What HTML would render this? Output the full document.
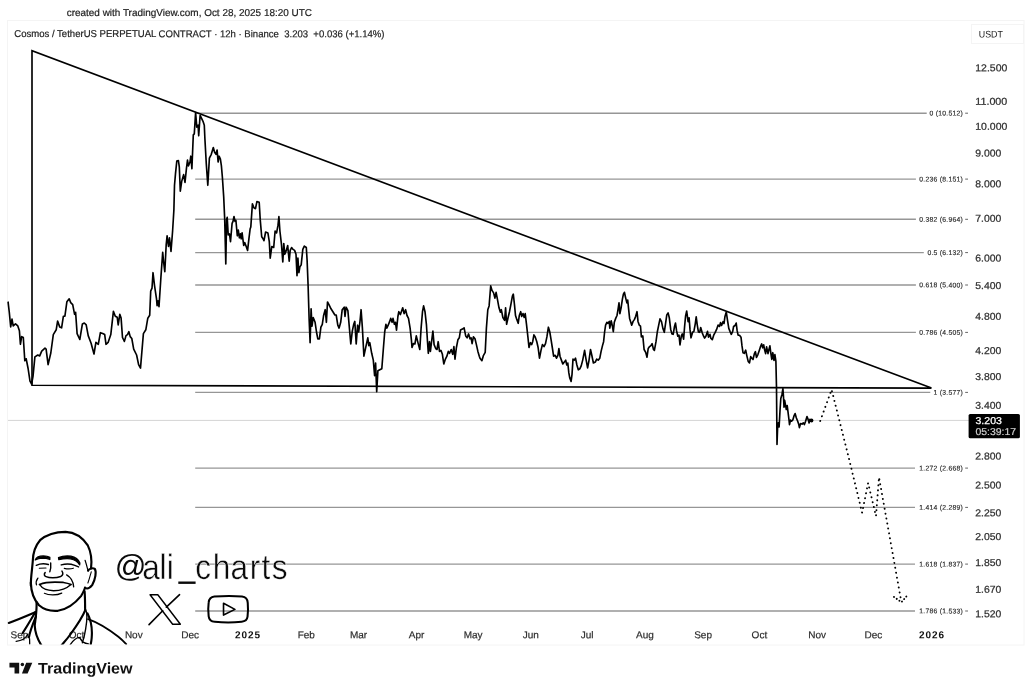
<!DOCTYPE html>
<html><head><meta charset="utf-8"><title>chart</title>
<style>
html,body{margin:0;padding:0;background:#fff;}
body{width:1032px;height:692px;overflow:hidden;position:relative;font-family:"Liberation Sans",sans-serif;}
svg{position:absolute;left:0;top:0;}
text{font-family:"Liberation Sans",sans-serif;}
</style></head><body>
<svg width="1032" height="692" viewBox="0 0 1032 692" style="filter:grayscale(1)">
<rect x="0" y="0" width="1032" height="692" fill="#ffffff"/>
<!-- frame -->
<rect x="7.5" y="20.5" width="1016.5" height="624.5" fill="none" stroke="#f4f4f4" stroke-width="1"/>
<rect x="971.5" y="24.5" width="52" height="19" fill="none" stroke="#f4f4f4" stroke-width="1"/>
<text transform="rotate(0.05 66.7 15.9)" x="66.7" y="15.9" font-size="10" fill="#1c1c1c" stroke="#1c1c1c" stroke-width="0.2" textLength="245.3" lengthAdjust="spacingAndGlyphs">created with TradingView.com, Oct 28, 2025 18:20 UTC</text>
<text transform="rotate(0.05 14.3 37.0)" x="14.3" y="37.0" font-size="10" fill="#222" stroke="#222" stroke-width="0.2" xml:space="preserve" textLength="370.2" lengthAdjust="spacingAndGlyphs">Cosmos / TetherUS PERPETUAL CONTRACT · 12h · Binance  3.203  +0.036 (+1.14%)</text>
<text transform="rotate(0.05 978.8 37.4)" x="978.8" y="37.4" font-size="9.6" fill="#222" textLength="24.1" lengthAdjust="spacingAndGlyphs">USDT</text>

<line x1="8" y1="420.4" x2="969" y2="420.4" stroke="#d4d4d4" stroke-width="1"/>
<line x1="195.2" y1="113.2" x2="926.7" y2="113.2" stroke="#969696" stroke-width="1.4"/>
<text transform="rotate(0.05 963 115.6)" x="963" y="115.6" font-size="6.8" fill="#2a2a2a" stroke="#2a2a2a" stroke-width="0.15" text-anchor="end" letter-spacing="0.25">0 (10.512)</text>
<line x1="965.2" y1="113.2" x2="968" y2="113.2" stroke="#555" stroke-width="0.9"/>
<line x1="195.2" y1="179.1" x2="915.9" y2="179.1" stroke="#969696" stroke-width="1.4"/>
<text transform="rotate(0.05 963 181.5)" x="963" y="181.5" font-size="6.8" fill="#2a2a2a" stroke="#2a2a2a" stroke-width="0.15" text-anchor="end" letter-spacing="0.25">0.236 (8.151)</text>
<line x1="965.2" y1="179.1" x2="968" y2="179.1" stroke="#555" stroke-width="0.9"/>
<line x1="195.2" y1="219.3" x2="915.9" y2="219.3" stroke="#969696" stroke-width="1.4"/>
<text transform="rotate(0.05 963 221.7)" x="963" y="221.7" font-size="6.8" fill="#2a2a2a" stroke="#2a2a2a" stroke-width="0.15" text-anchor="end" letter-spacing="0.25">0.382 (6.964)</text>
<line x1="965.2" y1="219.3" x2="968" y2="219.3" stroke="#555" stroke-width="0.9"/>
<line x1="195.2" y1="252.6" x2="923.8" y2="252.6" stroke="#969696" stroke-width="1.4"/>
<text transform="rotate(0.05 963 255.0)" x="963" y="255.0" font-size="6.8" fill="#2a2a2a" stroke="#2a2a2a" stroke-width="0.15" text-anchor="end" letter-spacing="0.25">0.5 (6.132)</text>
<line x1="965.2" y1="252.6" x2="968" y2="252.6" stroke="#555" stroke-width="0.9"/>
<line x1="195.2" y1="285.0" x2="915.9" y2="285.0" stroke="#969696" stroke-width="1.4"/>
<text transform="rotate(0.05 963 287.4)" x="963" y="287.4" font-size="6.8" fill="#2a2a2a" stroke="#2a2a2a" stroke-width="0.15" text-anchor="end" letter-spacing="0.25">0.618 (5.400)</text>
<line x1="965.2" y1="285.0" x2="968" y2="285.0" stroke="#555" stroke-width="0.9"/>
<line x1="195.2" y1="332.4" x2="915.9" y2="332.4" stroke="#969696" stroke-width="1.4"/>
<text transform="rotate(0.05 963 334.8)" x="963" y="334.8" font-size="6.8" fill="#2a2a2a" stroke="#2a2a2a" stroke-width="0.15" text-anchor="end" letter-spacing="0.25">0.786 (4.505)</text>
<line x1="965.2" y1="332.4" x2="968" y2="332.4" stroke="#555" stroke-width="0.9"/>
<line x1="195.2" y1="392.4" x2="930.3" y2="392.4" stroke="#969696" stroke-width="1.4"/>
<text transform="rotate(0.05 963 394.8)" x="963" y="394.8" font-size="6.8" fill="#2a2a2a" stroke="#2a2a2a" stroke-width="0.15" text-anchor="end" letter-spacing="0.25">1 (3.577)</text>
<line x1="965.2" y1="392.4" x2="968" y2="392.4" stroke="#555" stroke-width="0.9"/>
<line x1="195.2" y1="468.1" x2="915.0" y2="468.1" stroke="#969696" stroke-width="1.4"/>
<text transform="rotate(0.05 963 470.5)" x="963" y="470.5" font-size="6.8" fill="#2a2a2a" stroke="#2a2a2a" stroke-width="0.15" text-anchor="end" letter-spacing="0.25">1.272 (2.668)</text>
<line x1="965.2" y1="468.1" x2="968" y2="468.1" stroke="#555" stroke-width="0.9"/>
<line x1="195.2" y1="507.4" x2="915.0" y2="507.4" stroke="#969696" stroke-width="1.4"/>
<text transform="rotate(0.05 963 509.8)" x="963" y="509.8" font-size="6.8" fill="#2a2a2a" stroke="#2a2a2a" stroke-width="0.15" text-anchor="end" letter-spacing="0.25">1.414 (2.289)</text>
<line x1="965.2" y1="507.4" x2="968" y2="507.4" stroke="#555" stroke-width="0.9"/>
<line x1="195.2" y1="564.1" x2="915.0" y2="564.1" stroke="#969696" stroke-width="1.4"/>
<text transform="rotate(0.05 963 566.5)" x="963" y="566.5" font-size="6.8" fill="#2a2a2a" stroke="#2a2a2a" stroke-width="0.15" text-anchor="end" letter-spacing="0.25">1.618 (1.837)</text>
<line x1="965.2" y1="564.1" x2="968" y2="564.1" stroke="#555" stroke-width="0.9"/>
<line x1="195.2" y1="611.0" x2="915.0" y2="611.0" stroke="#969696" stroke-width="1.4"/>
<text transform="rotate(0.05 963 613.4)" x="963" y="613.4" font-size="6.8" fill="#2a2a2a" stroke="#2a2a2a" stroke-width="0.15" text-anchor="end" letter-spacing="0.25">1.786 (1.533)</text>
<line x1="965.2" y1="611.0" x2="968" y2="611.0" stroke="#555" stroke-width="0.9"/>
<text transform="rotate(0.05 975.3 71.3)" x="975.3" y="71.3" font-size="10" fill="#303030" stroke="#303030" stroke-width="0.25" textLength="32.0" lengthAdjust="spacingAndGlyphs">12.500</text>
<text transform="rotate(0.05 975.3 104.7)" x="975.3" y="104.7" font-size="10" fill="#303030" stroke="#303030" stroke-width="0.25" textLength="32.0" lengthAdjust="spacingAndGlyphs">11.000</text>
<text transform="rotate(0.05 975.3 129.8)" x="975.3" y="129.8" font-size="10" fill="#303030" stroke="#303030" stroke-width="0.25" textLength="32.0" lengthAdjust="spacingAndGlyphs">10.000</text>
<text transform="rotate(0.05 975.3 156.4)" x="975.3" y="156.4" font-size="10" fill="#303030" stroke="#303030" stroke-width="0.25" textLength="26.0" lengthAdjust="spacingAndGlyphs">9.000</text>
<text transform="rotate(0.05 975.3 187.3)" x="975.3" y="187.3" font-size="10" fill="#303030" stroke="#303030" stroke-width="0.25" textLength="26.0" lengthAdjust="spacingAndGlyphs">8.000</text>
<text transform="rotate(0.05 975.3 221.7)" x="975.3" y="221.7" font-size="10" fill="#303030" stroke="#303030" stroke-width="0.25" textLength="26.0" lengthAdjust="spacingAndGlyphs">7.000</text>
<text transform="rotate(0.05 975.3 261.4)" x="975.3" y="261.4" font-size="10" fill="#303030" stroke="#303030" stroke-width="0.25" textLength="26.0" lengthAdjust="spacingAndGlyphs">6.000</text>
<text transform="rotate(0.05 975.3 289.0)" x="975.3" y="289.0" font-size="10" fill="#303030" stroke="#303030" stroke-width="0.25" textLength="26.0" lengthAdjust="spacingAndGlyphs">5.400</text>
<text transform="rotate(0.05 975.3 319.7)" x="975.3" y="319.7" font-size="10" fill="#303030" stroke="#303030" stroke-width="0.25" textLength="26.0" lengthAdjust="spacingAndGlyphs">4.800</text>
<text transform="rotate(0.05 975.3 354.1)" x="975.3" y="354.1" font-size="10" fill="#303030" stroke="#303030" stroke-width="0.25" textLength="26.0" lengthAdjust="spacingAndGlyphs">4.200</text>
<text transform="rotate(0.05 975.3 379.9)" x="975.3" y="379.9" font-size="10" fill="#303030" stroke="#303030" stroke-width="0.25" textLength="26.0" lengthAdjust="spacingAndGlyphs">3.800</text>
<text transform="rotate(0.05 975.3 408.8)" x="975.3" y="408.8" font-size="10" fill="#303030" stroke="#303030" stroke-width="0.25" textLength="26.0" lengthAdjust="spacingAndGlyphs">3.400</text>
<text transform="rotate(0.05 975.3 459.4)" x="975.3" y="459.4" font-size="10" fill="#303030" stroke="#303030" stroke-width="0.25" textLength="26.0" lengthAdjust="spacingAndGlyphs">2.800</text>
<text transform="rotate(0.05 975.3 488.6)" x="975.3" y="488.6" font-size="10" fill="#303030" stroke="#303030" stroke-width="0.25" textLength="26.0" lengthAdjust="spacingAndGlyphs">2.500</text>
<text transform="rotate(0.05 975.3 516.2)" x="975.3" y="516.2" font-size="10" fill="#303030" stroke="#303030" stroke-width="0.25" textLength="26.0" lengthAdjust="spacingAndGlyphs">2.250</text>
<text transform="rotate(0.05 975.3 540.0)" x="975.3" y="540.0" font-size="10" fill="#303030" stroke="#303030" stroke-width="0.25" textLength="26.0" lengthAdjust="spacingAndGlyphs">2.050</text>
<text transform="rotate(0.05 975.3 566.0)" x="975.3" y="566.0" font-size="10" fill="#303030" stroke="#303030" stroke-width="0.25" textLength="26.0" lengthAdjust="spacingAndGlyphs">1.850</text>
<text transform="rotate(0.05 975.3 592.7)" x="975.3" y="592.7" font-size="10" fill="#303030" stroke="#303030" stroke-width="0.25" textLength="26.0" lengthAdjust="spacingAndGlyphs">1.670</text>
<text transform="rotate(0.05 975.3 617.3)" x="975.3" y="617.3" font-size="10" fill="#303030" stroke="#303030" stroke-width="0.25" textLength="26.0" lengthAdjust="spacingAndGlyphs">1.520</text>
<text transform="rotate(0.05 19.5 638.2)" x="19.5" y="638.2" font-size="10" fill="#2c2c2c" stroke="#2c2c2c" stroke-width="0.2" text-anchor="middle">Sep</text>
<text transform="rotate(0.05 76.5 638.2)" x="76.5" y="638.2" font-size="10" fill="#2c2c2c" stroke="#2c2c2c" stroke-width="0.2" text-anchor="middle">Oct</text>
<text transform="rotate(0.05 133.8 638.2)" x="133.8" y="638.2" font-size="10" fill="#2c2c2c" stroke="#2c2c2c" stroke-width="0.2" text-anchor="middle">Nov</text>
<text transform="rotate(0.05 190.1 638.2)" x="190.1" y="638.2" font-size="10" fill="#2c2c2c" stroke="#2c2c2c" stroke-width="0.2" text-anchor="middle">Dec</text>
<text transform="rotate(0.05 248.1 638.2)" x="248.1" y="638.2" font-size="10" font-weight="bold" fill="#111" text-anchor="middle" letter-spacing="0.95">2025</text>
<text transform="rotate(0.05 306.3 638.2)" x="306.3" y="638.2" font-size="10" fill="#2c2c2c" stroke="#2c2c2c" stroke-width="0.2" text-anchor="middle">Feb</text>
<text transform="rotate(0.05 358.6 638.2)" x="358.6" y="638.2" font-size="10" fill="#2c2c2c" stroke="#2c2c2c" stroke-width="0.2" text-anchor="middle">Mar</text>
<text transform="rotate(0.05 416.6 638.2)" x="416.6" y="638.2" font-size="10" fill="#2c2c2c" stroke="#2c2c2c" stroke-width="0.2" text-anchor="middle">Apr</text>
<text transform="rotate(0.05 473.1 638.2)" x="473.1" y="638.2" font-size="10" fill="#2c2c2c" stroke="#2c2c2c" stroke-width="0.2" text-anchor="middle">May</text>
<text transform="rotate(0.05 530.8 638.2)" x="530.8" y="638.2" font-size="10" fill="#2c2c2c" stroke="#2c2c2c" stroke-width="0.2" text-anchor="middle">Jun</text>
<text transform="rotate(0.05 587.2 638.2)" x="587.2" y="638.2" font-size="10" fill="#2c2c2c" stroke="#2c2c2c" stroke-width="0.2" text-anchor="middle">Jul</text>
<text transform="rotate(0.05 645.0 638.2)" x="645.0" y="638.2" font-size="10" fill="#2c2c2c" stroke="#2c2c2c" stroke-width="0.2" text-anchor="middle">Aug</text>
<text transform="rotate(0.05 703.1 638.2)" x="703.1" y="638.2" font-size="10" fill="#2c2c2c" stroke="#2c2c2c" stroke-width="0.2" text-anchor="middle">Sep</text>
<text transform="rotate(0.05 759.4 638.2)" x="759.4" y="638.2" font-size="10" fill="#2c2c2c" stroke="#2c2c2c" stroke-width="0.2" text-anchor="middle">Oct</text>
<text transform="rotate(0.05 817.2 638.2)" x="817.2" y="638.2" font-size="10" fill="#2c2c2c" stroke="#2c2c2c" stroke-width="0.2" text-anchor="middle">Nov</text>
<text transform="rotate(0.05 873.4 638.2)" x="873.4" y="638.2" font-size="10" fill="#2c2c2c" stroke="#2c2c2c" stroke-width="0.2" text-anchor="middle">Dec</text>
<text transform="rotate(0.05 932.1 638.2)" x="932.1" y="638.2" font-size="10" font-weight="bold" fill="#111" text-anchor="middle" letter-spacing="0.95">2026</text>
<polyline points="931.5,388.1 32,385.2 32,50.8 931.5,388.1" fill="none" stroke="#000" stroke-width="1.65" stroke-linejoin="miter"/>
<polyline points="8.1,302.2 9.3,312.3 10.7,326.9 12.0,319.1 13.2,325.9 15.5,323.9 17.8,325.9 19.4,330.7 20.4,344.3 21.7,336.6 23.3,337.5 24.8,360.8 26.2,358.8 28.1,368.5 30.0,381.1 31.6,384.0 33.0,376.3 34.9,356.9 37.8,355.0 39.7,355.9 41.7,351.1 45.0,348.2 46.1,349.1 48.1,364.6 50.8,353.0 53.3,334.6 56.2,329.8 57.6,321.1 59.7,326.9 61.6,327.8 63.4,316.2 64.9,316.2 66.9,301.7 69.2,298.8 70.7,302.6 72.7,304.6 74.6,314.3 75.6,312.3 77.1,333.6 79.8,339.5 82.4,323.9 84.3,323.0 86.2,324.9 88.2,335.6 91.1,343.3 94.0,354.0 95.9,342.4 98.3,344.3 100.4,332.7 102.7,333.6 104.7,334.6 106.0,344.3 108.1,342.4 110.8,334.6 113.4,311.4 115.3,316.2 117.2,317.2 118.2,324.9 119.8,314.3 121.1,318.1 122.5,337.5 124.4,341.4 126.0,335.6 127.5,334.6 128.9,331.7 130.2,336.6 131.8,338.5 133.7,349.1 136.6,355.0 138.6,364.6 140.5,368.1 143.4,333.6 145.8,329.8 147.8,318.2 149.7,315.3 150.7,291.1 152.0,288.2 153.0,272.7 154.5,285.3 156.5,298.8 157.1,305.6 158.0,300.8 159.0,306.6 160.9,277.5 162.7,252.3 163.6,262.0 164.8,271.7 166.2,244.6 167.1,235.8 168.5,246.5 169.5,237.8 171.0,251.4 172.6,231.0 173.9,209.7 174.5,185.3 175.5,173.6 176.8,161.1 178.4,160.5 179.3,166.9 180.3,191.1 181.7,181.4 183.6,174.6 185.0,182.4 186.5,167.8 187.5,160.1 188.4,165.9 190.0,162.0 190.8,156.2 191.9,168.8 193.3,134.9 194.3,133.9 195.6,112.6 196.8,127.1 198.1,125.2 198.7,135.8 200.1,115.5 201.6,118.4 203.0,121.3 204.3,125.2 204.9,138.8 206.3,163.9 207.8,185.3 209.4,158.1 211.3,154.3 213.3,147.5 214.6,152.3 216.0,154.3 217.1,150.0 218.1,162.0 219.1,156.2 220.4,159.1 221.4,165.9 222.4,177.5 223.7,196.9 224.7,219.4 225.8,263.9 226.6,219.4 227.2,217.4 228.2,234.9 229.5,233.9 230.5,241.7 232.1,223.3 233.0,221.3 234.0,216.5 235.0,221.3 235.9,220.3 237.3,235.8 238.3,230.0 239.4,237.8 240.4,233.9 241.2,238.8 242.1,232.9 243.7,245.5 244.7,242.6 246.2,246.5 247.6,250.4 248.9,238.8 250.1,229.1 250.8,227.1 252.4,203.9 253.9,207.8 255.5,208.7 256.9,201.6 259.2,202.3 260.2,219.4 261.7,236.8 263.1,238.8 264.0,240.7 265.6,232.0 267.9,232.9 269.3,241.7 270.2,258.1 271.8,246.5 273.7,247.5 275.1,231.0 276.6,232.9 278.0,225.2 278.9,216.5 279.9,231.0 281.5,244.6 282.8,262.0 283.8,243.6 284.8,254.3 286.3,250.4 287.7,245.5 289.2,261.1 290.2,250.4 291.6,247.5 293.1,249.4 294.6,250.4 296.0,254.3 297.0,275.6 297.9,258.1 298.9,272.7 299.9,266.9 301.2,264.9 302.8,249.4 304.3,246.1 306.3,247.5 307.1,260.1 308.1,285.5 309.1,318.4 310.1,342.7 311.1,308.8 312.0,326.2 313.2,317.5 315.1,322.3 316.5,332.0 317.8,338.8 319.4,338.8 320.9,327.2 322.3,324.3 323.6,315.5 325.2,309.7 326.4,322.3 327.5,302.0 329.1,304.9 331.0,308.8 332.9,311.7 334.9,315.0 336.2,315.0 337.8,325.2 339.1,328.1 340.7,322.3 342.2,309.7 344.2,307.2 345.0,316.5 346.1,307.2 347.9,310.7 349.4,328.1 350.8,344.0 352.3,331.1 353.7,324.3 354.8,321.4 356.2,344.0 357.6,325.2 358.7,332.0 360.1,320.4 361.1,309.7 362.4,328.1 363.9,356.2 365.9,346.6 367.8,337.8 368.8,345.6 369.8,342.7 371.7,353.3 373.3,360.1 374.6,375.6 375.6,363.0 376.7,391.7 377.9,370.8 379.8,369.8 381.8,368.8 383.3,349.5 384.7,332.0 385.9,324.3 386.8,328.1 388.2,325.2 389.5,321.9 390.7,318.4 392.1,322.3 393.0,318.4 394.4,324.3 395.5,322.3 396.5,330.1 397.9,316.5 398.8,311.7 400.4,314.6 401.7,310.7 402.7,307.8 404.1,313.6 405.6,309.7 407.0,315.5 408.5,318.4 410.1,328.1 411.4,339.8 412.0,347.5 413.4,343.6 414.9,344.0 416.3,335.9 418.2,343.6 419.8,349.5 421.1,328.1 422.5,311.7 423.6,305.9 425.0,311.7 426.4,324.3 427.5,341.7 428.3,353.3 429.5,341.7 430.4,351.4 431.8,339.8 432.9,331.1 434.1,344.6 435.7,348.5 437.0,349.5 438.2,341.7 439.5,351.4 440.9,350.4 442.4,354.3 443.8,364.0 445.4,359.1 446.9,356.2 448.3,351.4 449.6,353.3 451.2,349.5 452.7,354.3 453.9,346.6 455.0,359.1 456.4,347.5 457.9,339.8 459.3,337.8 460.5,330.1 462.4,329.1 464.1,327.8 465.7,335.9 467.1,337.8 468.6,333.9 470.0,338.8 471.1,337.8 472.1,343.6 473.4,336.9 475.0,338.8 476.4,344.6 477.9,351.4 479.3,356.2 480.0,358.2 481.9,360.7 483.5,355.3 485.2,352.4 486.4,328.1 487.8,309.7 489.1,305.9 490.1,293.3 490.7,285.9 492.0,290.4 493.6,292.9 494.9,298.1 496.1,292.3 497.4,299.1 499.0,307.8 500.4,312.2 501.3,309.7 502.9,317.5 504.6,320.4 505.6,307.8 506.6,324.3 508.1,317.5 509.5,311.7 511.0,303.9 512.4,296.2 513.3,294.2 514.5,304.9 515.5,315.5 516.8,319.4 518.2,323.3 519.3,315.5 520.7,311.7 521.7,316.5 523.0,313.6 524.2,317.5 525.2,313.6 526.5,324.3 527.9,336.9 529.0,347.5 530.4,342.7 531.7,344.6 532.7,341.7 533.9,334.9 535.2,336.9 536.8,341.7 538.1,347.5 539.5,358.2 541.0,350.4 542.4,344.6 544.0,346.6 545.5,343.6 546.9,336.9 548.4,327.2 549.8,332.0 551.1,339.8 552.3,347.5 553.6,356.2 555.2,355.3 556.5,358.2 557.9,355.3 558.9,348.5 560.0,356.2 561.4,360.1 562.8,364.0 564.3,362.1 565.7,360.1 566.8,365.0 567.8,363.0 568.8,372.7 569.7,377.6 571.1,381.4 572.0,374.6 573.0,359.1 574.4,360.1 575.5,358.2 576.9,365.0 578.3,369.8 579.8,368.8 581.2,365.9 582.7,360.1 584.6,350.4 586.0,359.1 587.6,367.9 588.9,361.1 590.5,349.5 591.8,355.3 593.4,363.0 595.3,362.1 596.7,359.1 598.2,360.1 599.8,358.2 601.1,351.4 602.5,345.6 603.6,341.7 604.6,332.0 605.6,325.2 606.9,322.3 607.9,323.3 609.3,321.4 609.8,328.1 611.2,320.8 612.4,326.2 613.3,331.6 614.3,322.3 615.7,318.4 617.0,315.5 618.0,309.7 619.0,302.9 619.9,313.6 621.1,307.8 622.4,299.1 623.4,294.2 624.4,292.3 625.7,298.1 626.9,302.9 627.7,300.0 628.6,308.8 629.6,318.4 630.8,322.3 631.7,325.2 633.1,321.4 634.5,319.4 635.6,316.5 637.0,311.7 638.0,321.4 639.3,325.2 640.5,326.2 641.4,336.9 642.8,335.9 644.1,349.5 645.7,352.4 647.0,357.2 648.2,348.5 649.6,346.6 650.9,345.6 652.1,343.6 653.5,349.5 654.4,350.4 656.0,341.7 657.3,332.0 658.7,325.2 660.0,318.8 661.5,321.7 662.9,328.4 664.3,332.3 665.4,324.6 666.8,314.9 668.1,312.9 669.3,317.8 670.7,329.4 672.0,333.9 673.2,334.3 674.5,326.5 675.5,323.0 676.5,330.4 677.8,336.2 679.0,335.2 680.0,344.9 681.3,336.2 682.3,333.9 683.6,339.1 684.6,326.5 685.6,315.9 686.7,311.0 688.1,321.7 689.1,317.8 690.0,329.4 691.0,337.8 692.6,332.3 693.9,331.4 695.3,323.6 696.2,316.8 697.2,324.6 698.4,331.9 699.7,332.3 700.7,327.5 702.2,332.7 703.6,336.2 704.6,338.1 705.9,336.2 707.5,331.4 708.5,337.2 710.0,334.3 710.8,338.1 712.3,339.7 713.7,335.2 715.2,332.3 716.6,329.4 718.1,325.0 719.5,326.5 720.5,322.6 721.6,325.5 723.0,321.7 724.0,323.6 724.9,316.8 726.3,312.0 727.4,319.7 728.8,328.4 730.2,331.9 731.3,334.3 732.7,331.4 733.6,326.5 735.0,325.5 736.2,323.0 737.1,330.4 738.1,335.2 739.5,335.2 741.0,337.2 742.0,345.9 743.0,352.7 744.3,353.3 745.7,350.2 746.8,355.6 748.2,361.4 749.5,362.9 750.7,356.6 752.0,358.5 753.0,359.5 754.4,353.6 755.4,351.7 756.5,357.5 757.9,354.6 759.2,350.7 760.4,346.9 761.7,343.9 762.7,347.8 763.7,344.9 764.6,349.8 765.6,353.6 766.6,346.9 768.0,353.6 768.9,349.8 769.9,345.9 770.9,353.6 771.8,359.5 772.8,352.7 774.0,360.4 774.9,354.6 775.9,361.4 776.5,387.4 777.0,444.4 777.7,424.6 778.3,422.9 779.1,427.0 780.0,410.7 780.8,398.5 782.0,394.4 782.9,388.6 783.5,396.7 784.0,407.2 784.6,400.2 785.5,404.9 786.3,409.5 787.2,405.5 788.0,411.9 789.0,420.0 789.5,424.6 790.5,420.0 791.6,421.2 792.8,420.0 794.0,415.9 795.1,413.6 796.3,417.7 797.7,421.2 798.8,424.6 799.4,427.6 800.6,423.5 802.1,424.1 803.3,422.9 804.4,424.6 805.6,421.2 807.0,416.5 807.9,418.8 809.1,422.9 809.9,419.4 811.0,421.2 812.2,420.0" fill="none" stroke="#000" stroke-width="1.65" stroke-linejoin="round" stroke-linecap="round"/>
<circle cx="811.5" cy="420.5" r="1.9" fill="#000"/>
<polyline points="820.2,421 831.6,389.6 849.6,461.2 862.1,512.7 868.1,483.1 876,516 879,477.3 901.4,602.2" fill="none" stroke="#000" stroke-width="1.9" stroke-dasharray="0.1 4.9" stroke-linecap="round"/>
<polyline points="894,596.9 901.4,602.2 907.4,595.3" fill="none" stroke="#000" stroke-width="1.9" stroke-dasharray="0.1 3.2" stroke-linecap="round"/>
<rect x="968.6" y="414" width="51.3" height="24.3" rx="1.6" fill="#000"/>
<text transform="rotate(0.05 975.5 424)" x="975.5" y="424" font-size="10" fill="#fff" stroke="#fff" stroke-width="0.25" textLength="26.4" lengthAdjust="spacingAndGlyphs">3.203</text>
<text transform="rotate(0.05 975.5 435)" x="975.5" y="435" font-size="10" fill="#cfcfcf" stroke="#cfcfcf" stroke-width="0.2" textLength="40.6" lengthAdjust="spacingAndGlyphs">05:39:17</text>
<!-- avatar: head (frame1: region 20,525 scale 9.22) -->
<defs><clipPath id="avclip"><rect x="0" y="500" width="200" height="144.6"/></clipPath></defs>
<g clip-path="url(#avclip)">
<g transform="translate(20,525) scale(0.10846)" fill="none" stroke="#000" stroke-width="20" stroke-linecap="round" stroke-linejoin="round">
<path d="M100,560 C98,480 114,400 118,330 C120,260 135,198 185,140 C240,92 330,63 420,63 C510,67 580,120 625,188 C655,250 665,320 655,400"/>
<path d="M600,325 C612,360 620,395 628,425" stroke-width="11"/>
<path d="M628,420 C640,400 672,393 690,405 C706,430 696,500 665,555 C645,580 620,592 600,580"/>
<path d="M657,432 C646,470 636,510 626,535" stroke-width="10"/>
<path d="M140,322 C150,298 180,285 215,285 C240,285 262,290 275,298 L275,318 C255,310 230,305 205,305 C180,306 160,312 140,322 Z" fill="#000" stroke-width="12"/>
<path d="M355,300 C385,287 430,283 470,287 C510,295 540,320 552,350 L550,368 C535,340 505,320 465,312 C425,308 390,312 358,320 Z" fill="#000" stroke-width="12"/>
<path d="M150,372 C180,358 225,355 262,364" stroke-width="13"/>
<path d="M178,398 L240,396" stroke-width="10"/>
<path d="M380,368 C420,356 470,358 505,372 L540,387" stroke-width="13"/>
<path d="M408,400 C440,407 470,406 492,398" stroke-width="10"/>
<path d="M283,350 C286,385 284,410 275,432" stroke-width="13"/>
<path d="M232,438 C219,455 224,470 240,476 C270,489 330,491 375,475 C396,465 401,445 387,425" stroke-width="14"/>
<path d="M165,490 C150,510 145,530 152,552" stroke-width="12"/>
<path d="M430,460 C465,480 490,515 495,570" stroke-width="12"/>
<path d="M180,548 C230,528 310,522 400,530 C430,535 455,542 470,548" stroke-width="16"/>
<path d="M180,548 C200,580 250,605 310,606 C370,605 430,585 470,548" stroke-width="12"/>
<path d="M225,630 C265,650 340,650 385,628" stroke-width="11"/>
</g>
<!-- jaw/neck/shoulders (frame3: region 5,570 scale 7.938) -->
<g transform="translate(5,570) scale(0.12598)" fill="none" stroke="#000" stroke-width="17" stroke-linecap="round" stroke-linejoin="round">
<path d="M205,100 C207,170 225,230 270,280 C310,315 370,328 420,324 C490,312 560,260 605,205 C625,170 633,150 635,140"/>
<path d="M250,255 C254,320 243,385 236,440 C238,500 262,555 290,600"/>
<path d="M632,170 C636,230 636,280 636,320"/>
<path d="M636,320 C615,375 570,440 520,510 C495,545 470,572 448,598"/>
<path d="M640,315 C656,345 652,400 640,470 C632,520 622,555 614,578" stroke-width="11"/>
<path d="M655,345 C684,400 694,470 688,540 C686,565 682,580 680,592"/>
<path d="M518,592 C540,560 565,538 590,535 C602,550 612,565 620,572 C635,580 650,584 662,586" stroke-width="11"/>
<path d="M240,335 C205,395 170,455 140,500"/>
<path d="M245,370 C218,435 196,495 190,535"/>
<path d="M195,545 L196,588" stroke-width="10"/>
<path d="M88,566 C130,562 165,542 181,510" stroke-width="10"/>
<path d="M240,335 C170,365 100,395 30,420"/>
<path d="M660,390 C740,418 820,468 900,530 C925,550 945,570 962,588" stroke-width="15"/>
</g>
</g>

<!-- @ali_charts -->
<g fill="#0a0a0a" stroke="#fff" stroke-width="0.45">
<text transform="rotate(0.05 114.85 576.6)" x="114.85" y="576.6" font-size="31.2" stroke="none">@</text>
<text transform="rotate(0.05) scale(0.9,1)" x="158.51 177.65 185.78 217.4 236.95 256.62 277.96 290.99 302.61" y="578.8" font-size="35.05">alicharts</text>
</g>
<rect x="178.3" y="581.5" width="17.3" height="2.4" fill="#0a0a0a"/>
<!-- X logo + YouTube (frame4: region 100,530 scale 4.914) -->
<g transform="translate(100,530) scale(0.2035)" fill="none" stroke="#000" stroke-linejoin="round" stroke-linecap="round">
<path d="M241,465 L308,397 M326,379 L391,318" stroke-width="8"/>
<path d="M246,318 L284,318 L395,463 L357,463 Z" stroke-width="7"/>
<path d="M562,327 C610,323 660,323 698,327 C718,329 725,339 726,358 C728,380 728,402 725,426 C723,443 715,449 696,451 C655,455 605,455 564,451 C543,449 536,441 534,424 C531,400 531,378 534,356 C536,338 543,329 562,327 Z" stroke-width="10"/>
<path d="M607,360 L663,390 L607,418 Z" stroke-width="8"/>
</g>
<!-- TradingView logo (frame5: region 0,650 scale 6.88) -->
<g transform="translate(0,650) scale(0.14535)" fill="#111">
<path d="M65,88 L132,88 L132,162 L100,162 L100,120 L65,120 Z"/>
<circle cx="154" cy="100" r="12"/>
<path d="M180,88 L222,88 L190,162 L151,162 Z"/>
</g>
<text transform="rotate(0.05 38.1 673.5)" x="38.1" y="673.5" font-size="15.4" font-weight="bold" fill="#111" textLength="94.5" lengthAdjust="spacingAndGlyphs">TradingView</text>

</svg></body></html>
